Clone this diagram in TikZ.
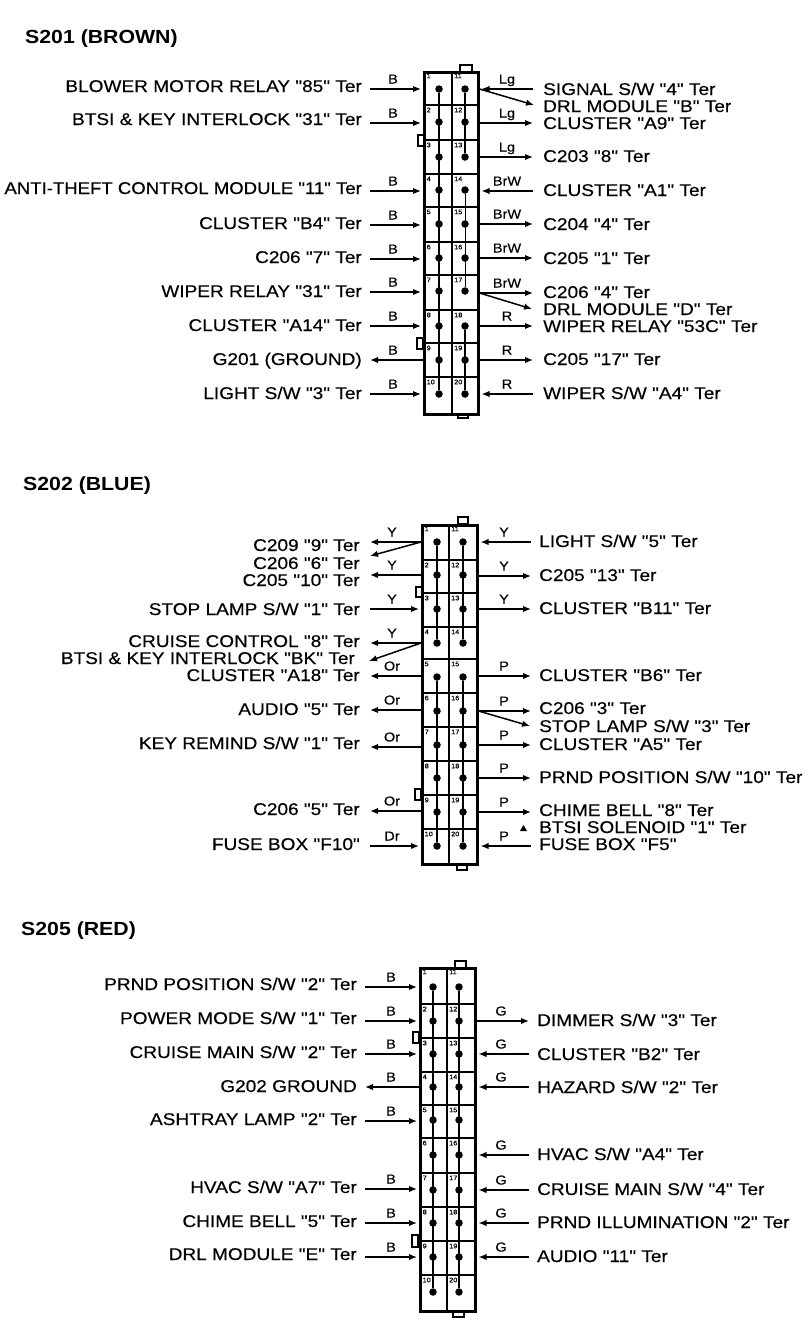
\documentclass[tikz,border=0pt]{standalone}
\usepackage{fontspec}
\setmainfont[FakeStretch=1.12,FakeBold=0.35,Ligatures=TeXOff,BoldFeatures={FakeBold=0}]{Liberation Sans}
\usetikzlibrary{arrows.meta,calc}
\tikzset{
  lbl/.style={inner sep=0pt,text height=12pt,text depth=0pt,font=\fontsize{17}{17}\selectfont},
  title/.style={inner sep=0pt,anchor=west,text height=14pt,text depth=0pt,font=\fontsize{19}{19}\selectfont\bfseries},
  wlab/.style={inner sep=0pt,text height=9pt,text depth=0pt,font=\fontsize{13}{13}\selectfont},
  numlab/.style={inner sep=0pt,anchor=north west,font=\fontsize{6.5}{6.5}\selectfont},
  wire/.style={line width=1.5pt,-{Latex[length=8pt,width=6.5pt]}},
  wirein/.style={wire,shorten >=2pt},
  blockbox/.style={draw,line width=1.5pt,inner sep=0pt,fill=white},
  rowline/.style={line width=1.4pt},
  pinline/.style={line width=1.4pt},
  pindot/.style={circle,fill=black,inner sep=0pt,minimum size=7.5pt},
  tabbox/.style={draw,line width=1.2pt,fill=white},
}
\newcommand\Lin[4]{%
  \coordinate (\sec LS#1) at (\la,#1);
  \node[lbl,anchor=east] (\sec LT#1) at (\lt,#2) {#3};
  \draw[wirein] (\sec LS#1) -- (\sec.west |- \sec LS#1);
  \node[wlab] (\sec LW#1) at (\lw,#1-10) {#4};}
\newcommand\Lout[4]{%
  \coordinate (\sec LS#1) at (\la,#1);
  \node[lbl,anchor=east] (\sec LT#1) at (\lt,#2) {#3};
  \draw[wire] (\sec.west |- \sec LS#1) -- (\sec LS#1);
  \node[wlab] (\sec LW#1) at (\lw,#1-10) {#4};}
\newcommand\Rin[4]{%
  \coordinate (\sec RS#1) at (\ra,#1);
  \node[lbl,anchor=west] (\sec RT#1) at (\rt,#2) {#3};
  \draw[wirein] (\sec RS#1) -- (\sec.east |- \sec RS#1);
  \node[wlab] (\sec RW#1) at (\rw,#1-10) {#4};}
\newcommand\Rout[4]{%
  \coordinate (\sec RS#1) at (\ra,#1);
  \node[lbl,anchor=west] (\sec RT#1) at (\rt,#2) {#3};
  \draw[wire] (\sec.east |- \sec RS#1) -- (\sec RS#1);
  \node[wlab] (\sec RW#1) at (\rw,#1-10) {#4};}
\newcommand\Ldiag[5]{%
  \coordinate (\sec LD#3) at (#2,#3);
  \draw[wire] (\sec.west |- 0,#1) -- (\sec LD#3);
  \node[lbl,anchor=east] (\sec LDT#3) at (#4,#5) {\Dtext};}
\newcommand\Rdiag[5]{%
  \coordinate (\sec RD#3) at (#2,#3);
  \draw[wire] (\sec.east |- 0,#1) -- (\sec RD#3);
  \node[lbl,anchor=west] (\sec RDT#3) at (#4,#5) {\Dtext};}
\newcommand\Block[9]{%
  \def\sec{#1}%
  \node[blockbox,anchor=north west,minimum width=#4pt-#2pt,minimum height=#5pt-#3pt] (#1) at (#2,#3) {};
  \draw[line width=.7pt] ($(#1.north west)+(2.5,2.5)$) rectangle ($(#1.south east)+(-2.5,-2.5)$);
  \foreach \t/\d [count=\i] in {#9}{%
    \pgfmathtruncatemacro\jj{\i+10}%
    \ifnum\i>1 \draw[rowline] (#1.west |- 0,\t) -- (#1.east |- 0,\t);\fi
    \node[numlab] (#1n\i) at (#2+3.5,\t+2.5) {\i};
    \node[numlab] (#1n\jj) at (#6+2,\t+2.5) {\jj};
    \node[pindot] (#1p\i) at (#7,\d) {};
    \node[pindot] (#1p\jj) at (#8,\d) {};
  }
  \draw[rowline] (#6,#3) -- (#6,#5);
}
\begin{document}
\begin{tikzpicture}[x=1pt,y=-1pt]
\useasboundingbox (0,0) rectangle (808,1328);
\fill[white] (0,0) rectangle (808,1328);

% ---------- S201
\node[title] (t1) at (25,36) {S201 (BROWN)};
\draw[tabbox] (460,65) rectangle (472,72);
\draw[tabbox] (458,412) rectangle (468,418);
\draw[tabbox] (418,135) rectangle (424,146);
\draw[tabbox] (417,338) rectangle (423,349);
\Block{a}{423}{71}{478}{414}{452}{439}{465}{71/89,105/122,140/157,174/190,207/224,242/258,275/291,310/326,343/360,377/394}
\draw[pinline] (ap1) -- (ap10);
\draw[pinline] (ap11) -- (ap13);
\draw[pinline,line width=.9pt] (ap14) -- (ap17);
\draw[pinline] (ap18) -- (ap20);
\def\lt{362}\def\la{370}\def\lw{393}\def\rt{543}\def\ra{533}\def\rw{507}
\Lin{89}{86}{BLOWER MOTOR RELAY "85" Ter}{B}
\Lin{123}{119}{BTSI \& KEY INTERLOCK "31" Ter}{B}
\Lin{191}{188}{\scalebox{.975}[1]{ANTI-THEFT CONTROL MODULE "11" Ter}}{B}
\Lin{225}{223}{CLUSTER "B4" Ter}{B}
\Lin{259}{257}{C206 "7" Ter}{B}
\Lin{292}{291}{WIPER RELAY "31" Ter}{B}
\Lin{326}{325}{CLUSTER "A14" Ter}{B}
\Lout{360}{359}{G201 (GROUND)}{B}
\Lin{394}{393}{LIGHT S/W "3" Ter}{B}
\Rin{89}{89}{SIGNAL S/W "4" Ter}{Lg}
\def\Dtext{DRL MODULE "B" Ter}\Rdiag{89}{534}{105}{543}{106}
\Rout{123}{123}{CLUSTER "A9" Ter}{Lg}
\Rout{157}{156}{C203 "8" Ter}{Lg}
\Rin{191}{190}{CLUSTER "A1" Ter}{BrW}
\Rout{224}{224}{C204 "4" Ter}{BrW}
\Rout{258}{258}{C205 "1" Ter}{BrW}
\Rout{293}{292}{C206 "4" Ter}{BrW}
\def\Dtext{DRL MODULE "D" Ter}\Rdiag{293}{532}{309}{543}{309}
\Rout{326}{326}{WIPER RELAY "53C" Ter}{R}
\Rout{360}{359}{C205 "17" Ter}{R}
\Rin{394}{393}{WIPER S/W "A4" Ter}{R}

% ---------- S202
\node[title] (t2) at (23,483) {S202 (BLUE)};
\draw[tabbox] (458,517) rectangle (468,524);
\draw[tabbox] (457,863) rectangle (467,870);
\draw[tabbox] (416,587) rectangle (422,597);
\draw[tabbox] (415,789) rectangle (421,800);
\Block{b}{421}{524}{477}{864}{449}{437}{463}{524/542,560/575,593/609,627/643,659/677,693/711,727/745,761/778,795/812,829/846}
\draw[pinline] (bp1) -- (bp4);
\draw[pinline] (bp11) -- (bp14);
\draw[pinline] (bp5) -- (bp10);
\draw[pinline] (bp15) -- (bp20);
\def\lt{360}\def\la{370}\def\lw{392}\def\rt{539}\def\ra{531}\def\rw{504}
\Lout{542}{545}{C209 "9" Ter}{Y}
\def\Dtext{C206 "6" Ter}\Ldiag{542}{370}{556}{360}{563}
\Lout{575}{580}{C205 "10" Ter}{Y}
\Lin{609}{609}{STOP LAMP S/W "1" Ter}{Y}
\Lout{643}{641}{CRUISE CONTROL "8" Ter}{Y}
\def\Dtext{BTSI \& KEY INTERLOCK "BK" Ter}\Ldiag{643}{369}{661}{355}{658}
\Lout{676}{675}{CLUSTER "A18" Ter}{Or}
\Lout{710}{709}{AUDIO "5" Ter}{Or}
\Lout{747}{743}{KEY REMIND S/W "1" Ter}{Or}
\Lout{811}{809}{C206 "5" Ter}{Or}
\Lin{846}{844}{FUSE BOX "F10"}{Dr}
\Rin{542}{541}{LIGHT S/W "5" Ter}{Y}
\Rout{576}{575}{C205 "13" Ter}{Y}
\Rout{609}{608}{CLUSTER "B11" Ter}{Y}
\Rout{676}{675}{CLUSTER "B6" Ter}{P}
\Rout{711}{708}{C206 "3" Ter}{P}
\def\Dtext{STOP LAMP S/W "3" Ter}\Rdiag{711}{530}{726}{539}{726}
\Rout{745}{744}{CLUSTER "A5" Ter}{P}
\Rout{778}{777}{PRND POSITION S/W "10" Ter}{P}
\Rout{812}{810}{CHIME BELL "8" Ter}{P}
\node[lbl,anchor=west] (bsol) at (539,827) {BTSI SOLENOID "1" Ter};
\fill (520,831) -- (523.5,825) -- (527,831) -- cycle;
\Rin{846}{844}{FUSE BOX "F5"}{P}

% ---------- S205
\node[title] (t3) at (21,928) {S205 (RED)};
\draw[tabbox] (455,961) rectangle (466,968);
\draw[tabbox] (453,1311) rectangle (464,1317);
\draw[tabbox] (413,1032) rectangle (419,1043);
\draw[tabbox] (412,1235) rectangle (418,1247);
\Block{c}{419}{967}{475}{1311}{447}{433}{459}{967/987,1004/1021,1038/1054,1072/1087,1105/1120,1138/1155,1173/1190,1207/1223,1241/1257,1275/1292}
\draw[pinline] (cp1) -- (cp10);
\draw[pinline] (cp11) -- (cp20);
\def\lt{357}\def\la{365}\def\lw{391}\def\rt{537}\def\ra{529}\def\rw{501}
\Lin{987}{984}{PRND POSITION S/W "2" Ter}{B}
\Lin{1021}{1018}{POWER MODE S/W "1" Ter}{B}
\Lin{1054}{1052}{CRUISE MAIN S/W "2" Ter}{B}
\Lout{1087}{1086}{G202 GROUND}{B}
\Lin{1121}{1119}{ASHTRAY LAMP "2" Ter}{B}
\Lin{1189}{1187}{HVAC S/W "A7" Ter}{B}
\Lin{1223}{1221}{CHIME BELL "5" Ter}{B}
\Lin{1257}{1254}{DRL MODULE "E" Ter}{B}
\Rout{1021}{1020}{DIMMER S/W "3" Ter}{G}
\Rin{1054}{1054}{CLUSTER "B2" Ter}{G}
\Rin{1087}{1087}{HAZARD S/W "2" Ter}{G}
\Rin{1155}{1154}{HVAC S/W "A4" Ter}{G}
\Rin{1190}{1189}{CRUISE MAIN S/W "4" Ter}{G}
\Rin{1223}{1222}{PRND ILLUMINATION "2" Ter}{G}
\Rin{1257}{1256}{AUDIO "11" Ter}{G}
\end{tikzpicture}
\end{document}
